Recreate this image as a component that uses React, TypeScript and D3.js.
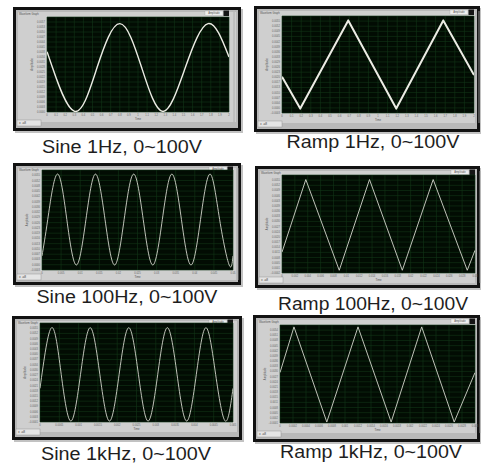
import React from "react";
import * as d3 from "d3";

// [time (s), amplitude (V)]
const sine1Hz: [number, number][] = [
  [0, 68], [0.06, 50], [0.304, 0], [0.55, 50], [0.8, 100], [1.04, 50],
  [1.275, 0], [1.52, 50], [1.77, 100], [2, 62],
];
const ramp1Hz: [number, number][] = [
  [0, 36], [0.19, 0], [0.69, 100], [1.19, 0], [1.68, 100], [2, 38],
];
const sine100Hz: [number, number][] = [
  [0, 10], [0.0015, 50], [0.004, 100], [0.0065, 50], [0.009, 0],
  [0.0115, 50], [0.014, 100], [0.0165, 50], [0.019, 0], [0.0215, 50],
  [0.024, 100], [0.0265, 50], [0.029, 0], [0.0315, 50], [0.034, 100],
  [0.0365, 50], [0.039, 0], [0.0415, 50], [0.044, 100], [0.0465, 50],
  [0.049, 0], [0.05, 10],
];
const ramp100Hz: [number, number][] = [
  [0, 20], [0.0037, 100], [0.0089, 0], [0.0136, 100], [0.0187, 0],
  [0.0235, 100], [0.0288, 0], [0.03, 22],
];
const sine1kHz: [number, number][] = [
  [0, 35], [0.0003, 100], [0.00055, 50], [0.0008, 0], [0.00105, 50],
  [0.0013, 100], [0.00155, 50], [0.0018, 0], [0.00205, 50], [0.0023, 100],
  [0.00255, 50], [0.0028, 0], [0.00305, 50], [0.0033, 100], [0.00355, 50],
  [0.0038, 0], [0.00405, 50], [0.0043, 100], [0.00455, 50], [0.0048, 0],
  [0.005, 35],
];
const ramp1kHz: [number, number][] = [
  [0, 52], [0.000215, 100], [0.00072, 0], [0.0012, 100], [0.00171, 0],
  [0.00218, 100], [0.00268, 0], [0.003, 52],
];

const captions = [
  "Sine 1Hz, 0~100V",
  "Ramp 1Hz, 0~100V",
  "Sine 100Hz, 0~100V",
  "Ramp 100Hz, 0~100V",
  "Sine 1kHz, 0~100V",
  "Ramp 1kHz, 0~100V",
];

const xTicks1Hz = d3.range(0, 21).map((i) => i / 10);
const xTicks100HzSine = d3.range(0, 11).map((i) => i * 0.005);
const xTicks100HzRamp = d3.range(0, 16).map((i) => i * 0.002);
const xTicks1kHzSine = d3.range(0, 11).map((i) => i * 0.0005);
const xTicks1kHzRamp = d3.range(0, 16).map((i) => i * 0.0002);

const yDomains: [number, number][] = [
  [-0.7, 107.6],
  [-5, 105],
  [-5.5, 104.5],
  [-3, 105],
  [-1, 105],
  [-1, 102],
];

// screen layout of each screenshot (frame, plot area, caption)
const layout = [
  { f: [13, 7, 228, 124], p: [47, 17, 182, 95], c: [122, 153, 160] },
  { f: [254, 6, 226, 126], p: [282, 16, 192, 97], c: [373, 148, 173] },
  { f: [13, 163, 228, 122], p: [42, 170, 191, 100], c: [127, 303, 181] },
  { f: [255, 166, 225, 122], p: [282, 175, 193, 98], c: [373, 310, 190] },
  { f: [12, 316, 230, 124], p: [40, 323, 193, 99], c: [126, 460, 170] },
  { f: [253, 315, 227, 127], p: [280, 325, 195, 98], c: [371, 458, 182] },
];

type PanelProps = {
  id: number;
  data: [number, number][];
  xTicks: number[];
  yDomain: [number, number];
  caption: string;
  curve: d3.CurveFactory;
  lineWidth: number;
  lineColor: string;
};

const FONT = "Liberation Sans, Arial, sans-serif";

const Panel = ({ id, data, xTicks, yDomain, caption, curve, lineWidth, lineColor }: PanelProps) => {
  const [fx, fy, fw, fh] = layout[id].f;
  const [px, py, pw, ph] = layout[id].p;
  const [cx, cy, cw] = layout[id].c;

  const x = d3.scaleLinear().domain(d3.extent(xTicks) as [number, number]).range([px, px + pw]);
  const y = d3.scaleLinear().domain(yDomain).range([py + ph, py]);
  const yTicks = d3.range(0, 20).map((i) => yDomain[0] + ((yDomain[1] - yDomain[0]) * i) / 19);

  const line = d3
    .line<[number, number]>()
    .x((d) => x(d[0]))
    .y((d) => y(d[1]))
    .curve(curve);

  const fmt = d3.format(".4f");
  const xfmt = (v: number) => String(+v.toFixed(5));

  return (
    <g>
      {/* drop shadow + black bezel */}
      <rect x={fx + 2} y={fy + 2} width={fw} height={fh} fill="#9a9a9a" opacity={0.6} />
      <rect x={fx} y={fy} width={fw} height={fh} fill="#121212" />
      <rect x={fx + 3} y={fy + 3} width={fw - 6} height={fh - 6} fill="#b9b9b9" />
      <rect x={fx + 5} y={fy + 5} width={fw - 10} height={py + ph + 10 - fy - 5} fill="#cfcfcf" />
      <line x1={px + pw + 5} x2={px + pw + 5} y1={fy + 5} y2={py + ph + 10} stroke="#a8a8a8" strokeWidth={0.8} />

      <text x={fx + 6} y={fy + 7.6} fontSize={2.6} fill="#555" fontFamily={FONT}>
        Waveform Graph
      </text>

      {/* legend */}
      <rect x={px + pw - 24} y={fy + 4} width={18} height={4.5} fill="#eee" stroke="#999" strokeWidth={0.3} />
      <text x={px + pw - 15} y={fy + 7.4} fontSize={2.6} textAnchor="middle" fill="#555" fontFamily={FONT}>
        Amplitude
      </text>
      <rect x={px + pw - 5.5} y={fy + 3.5} width={5.5} height={5.5} fill="#151515" />

      {/* y tick labels + title */}
      {yTicks.slice(0, 19).map((v, i) => (
        <text key={i} x={px - 2} y={y(v) + 1} fontSize={2.6} textAnchor="end" fill="#666" fontFamily={FONT}>
          {fmt(v / 18000)}
        </text>
      ))}
      <text
        transform={`translate(${px - 14},${py + ph / 2}) rotate(-90)`}
        fontSize={2.8}
        textAnchor="middle"
        fill="#555"
        fontFamily={FONT}
      >
        Amplitude
      </text>

      {/* plot area */}
      <rect x={px} y={py} width={pw} height={ph} fill="#020c03" />
      {xTicks.map((v, i) => (
        <line key={"gx" + i} x1={x(v)} x2={x(v)} y1={py} y2={py + ph} stroke="#123517" strokeWidth={0.6} />
      ))}
      {yTicks.map((v, i) => (
        <line key={"gy" + i} x1={px} x2={px + pw} y1={y(v)} y2={y(v)} stroke="#123517" strokeWidth={0.6} />
      ))}
      <clipPath id={"clip" + id}>
        <rect x={px} y={py} width={pw} height={ph} />
      </clipPath>
      <path
        d={line(data) ?? ""}
        fill="none"
        stroke={lineColor}
        strokeWidth={lineWidth}
        strokeLinejoin="round"
        clipPath={`url(#clip${id})`}
      />

      {/* x tick labels */}
      {xTicks.map((v, i) => (
        <text key={"xt" + i} x={x(v)} y={py + ph + 4} fontSize={2.6} textAnchor="middle" fill="#666" fontFamily={FONT}>
          {xfmt(v)}
        </text>
      ))}
      <text x={px + pw / 2} y={py + ph + 8} fontSize={2.8} textAnchor="middle" fill="#555" fontFamily={FONT}>
        Time
      </text>

      {/* bottom-left scale control */}
      <rect x={fx + 4} y={fy + fh - 11} width={24} height={6} fill="#e4e4e4" stroke="#888" strokeWidth={0.4} />
      <text x={fx + 6} y={fy + fh - 6.8} fontSize={3.2} fill="#444" fontFamily={FONT}>
        ± .a8
      </text>

      {/* caption */}
      <text
        x={cx}
        y={cy}
        fontSize={17.5}
        textAnchor="middle"
        textLength={cw}
        lengthAdjust="spacingAndGlyphs"
        fill="#1e1e1e"
        fontFamily={FONT}
      >
        {caption}
      </text>
    </g>
  );
};

const App = () => {
  const series = [sine1Hz, ramp1Hz, sine100Hz, ramp100Hz, sine1kHz, ramp1kHz];
  const ticks = [xTicks1Hz, xTicks1Hz, xTicks100HzSine, xTicks100HzRamp, xTicks1kHzSine, xTicks1kHzRamp];
  return (
    <svg
      width={481}
      height={464}
      viewBox="0 0 481 464"
      style={{ position: "absolute", left: 0, top: 0, background: "#fff", display: "block" }}
    >
      {series.map((s, i) => (
        <Panel
          key={i}
          id={i}
          data={s}
          xTicks={ticks[i]}
          yDomain={yDomains[i]}
          caption={captions[i]}
          curve={i % 2 === 0 ? d3.curveNatural : d3.curveLinear}
          lineWidth={i === 1 ? 2 : i === 0 ? 1.4 : 0.9}
          lineColor={i < 2 ? "#ecece4" : "#d4d6cc"}
        />
      ))}
    </svg>
  );
};

export default App;
